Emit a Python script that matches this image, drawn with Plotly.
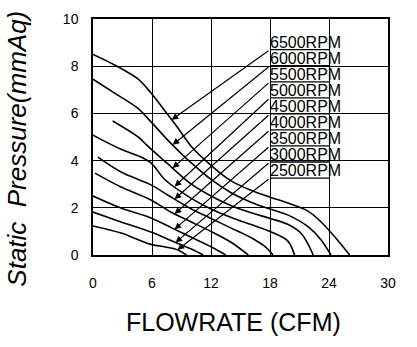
import numpy as np
import plotly.graph_objects as go

# ---- data ----
q6500 = [0, 2.2, 4.6, 5.9, 7.6, 8.6, 10, 12, 14, 16, 18, 19.8, 21.9, 23.2, 24.6, 26.1]
p6500 = [8.5, 8.05, 7.45, 6.86, 5.95, 5.4, 4.6, 3.8, 3.15, 2.75, 2.45, 2.2, 1.85, 1.4, 0.76, 0]
q6000 = [0, 2.2, 4.6, 5.9, 7.6, 10, 12, 14, 16, 18, 19.8, 21.9, 23.2, 24.2]
p6000 = [7.45, 6.86, 6.2, 5.64, 4.87, 3.9, 3.2, 2.65, 2.25, 1.95, 1.7, 1.19, 0.64, 0]
q5500 = [2, 4.6, 5.6, 7.5, 10, 12, 14, 16, 18, 19.8, 21.2, 22.4]
p5500 = [5.68, 5.0, 4.6, 3.9, 3.0, 2.5, 2.1, 1.8, 1.55, 1.3, 0.9, 0]
q5000 = [0, 1.5, 2.85, 4.6, 5.9, 7.3, 10, 12, 14, 16, 18, 19.8, 20.5]
p5000 = [5.08, 4.75, 4.48, 4.2, 3.9, 3.2, 2.4, 1.95, 1.6, 1.3, 1.0, 0.6, 0]
q4500 = [0.5, 2.85, 5.9, 7.6, 10, 12, 14, 16, 17.5, 18.3]
p4500 = [4.15, 3.52, 2.97, 2.54, 1.95, 1.55, 1.15, 0.75, 0.35, 0]
q4000 = [0.2, 2.85, 5.9, 8, 10, 12, 14, 15.8]
p4000 = [3.47, 2.88, 2.33, 1.8, 1.4, 1.0, 0.55, 0]
q3500 = [0, 2.85, 5.9, 8, 10, 12, 13.5]
p3500 = [2.5, 1.99, 1.57, 1.15, 0.75, 0.35, 0]
q3000 = [0, 2.85, 5.9, 8, 10, 11.2]
p3000 = [1.82, 1.4, 0.97, 0.6, 0.25, 0]
q2500 = [0, 2.85, 5.9, 7.5, 8.6, 9.5]
p2500 = [1.23, 0.93, 0.45, 0.33, 0.22, 0]

rpm_labels = ["6500RPM", "6000RPM", "5500RPM", "5000RPM", "4500RPM",
              "4000RPM", "3500RPM", "3000RPM", "2500RPM"]
label_y = [8.7, 8.02, 7.34, 6.66, 5.98, 5.30, 4.62, 3.94, 3.26]
label_x0 = 18
label_x1 = 24
arrow_tip_x = [8.0, 8.1, 8.1, 8.3, 8.3, 8.3, 8.3, 8.4, 8.6]

x_ticks = [0, 6, 12, 18, 24, 30]
y_ticks = [0, 2, 4, 6, 8, 10]

curves = [(q6500, p6500), (q6000, p6000), (q5500, p5500), (q5000, p5000),
          (q4500, p4500), (q4000, p4000), (q3500, p3500), (q3000, p3000),
          (q2500, p2500)]

FONT = "Liberation Sans, Arial, sans-serif"

fig = go.Figure()
for q, p in curves:
    fig.add_trace(go.Scatter(x=q, y=p, mode="lines",
                             line=dict(color="black", width=1.6, shape="spline", smoothing=0.9),
                             hoverinfo="skip", showlegend=False))

annotations = []
for lab, ly, tx, (q, p) in zip(rpm_labels, label_y, arrow_tip_x, curves):
    # underline
    fig.add_trace(go.Scatter(x=[label_x0, label_x1], y=[ly, ly], mode="lines",
                             line=dict(color="black", width=1.3),
                             hoverinfo="skip", showlegend=False))
    ty = float(np.interp(tx, q, p))
    annotations.append(dict(x=tx, y=ty, ax=label_x0, ay=ly, xref="x", yref="y",
                            axref="x", ayref="y", showarrow=True, arrowhead=2,
                            arrowsize=1.1, arrowwidth=1.2, arrowcolor="black", text=""))
    annotations.append(dict(x=label_x0, y=ly, xref="x", yref="y", text=lab,
                            showarrow=False, xanchor="left", yanchor="bottom",
                            yshift=-3, xshift=-2,
                            font=dict(family=FONT, size=16, color="black")))

annotations.append(dict(x=-0.258, y=0.45, xref="paper", yref="paper",
                        text="<i>Static  Pressure(mmAq)</i>", textangle=-90,
                        showarrow=False, xanchor="center", yanchor="middle",
                        font=dict(family=FONT, size=26, color="black")))
annotations.append(dict(x=0.475, y=-0.284, xref="paper", yref="paper",
                        text="FLOWRATE (CFM)", showarrow=False,
                        xanchor="center", yanchor="middle",
                        font=dict(family=FONT, size=25, color="black")))

axis_common = dict(showline=True, mirror=True, linecolor="black", linewidth=1.5,
                   showgrid=True, gridcolor="black", gridwidth=1.2, zeroline=False,
                   ticks="", tickfont=dict(family=FONT, size=14, color="black"))

fig.update_layout(
    width=417, height=347,
    margin=dict(l=93, r=29, t=19, b=92),
    paper_bgcolor="white", plot_bgcolor="white",
    xaxis=dict(range=[0, 30], tickvals=x_ticks, ticklabelstandoff=14, **axis_common),
    yaxis=dict(range=[0, 10], tickvals=y_ticks, ticklabelstandoff=10, **axis_common),
    annotations=annotations,
    showlegend=False,
)

fig.write_html("out.html")
